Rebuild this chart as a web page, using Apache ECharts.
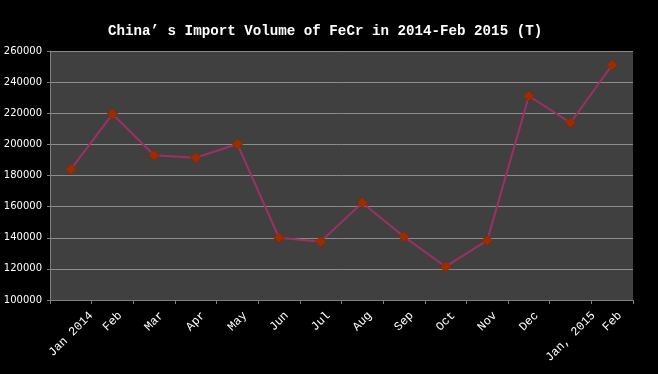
<!DOCTYPE html>
<html><head><meta charset="utf-8">
<script src="https://cdn.jsdelivr.net/npm/echarts@6/dist/echarts.min.js"></script>
<style>html,body{margin:0;padding:0;background:#000;}#c{width:658px;height:374px;}</style>
</head><body><div id="c"></div>
<script>
const categories = ["Jan 2014","Feb","Mar","Apr","May","Jun","Jul","Aug","Sep","Oct","Nov","Dec","Jan, 2015","Feb"];
const importVolume = [184000,219500,193000,191400,200200,140000,137500,162500,140700,121400,138300,231100,213900,251000];
const yTicks = {min:100000, max:260000, interval:20000};
const titleText = "China\u2019 s Import Volume of FeCr in 2014-Feb 2015 (T)";

const xFont = '12px "Liberation Mono"';
// Excel centres rotated labels horizontally on the category; emulate with per-label padding
const cv = document.createElement('canvas').getContext('2d');
cv.font = xFont;
const rich = {};
categories.forEach((c, i) => {
  const L = cv.measureText(c).width;
  const v = 0.25 * L + 4;
  rich['l' + i] = {color:'#ffffff', fontFamily:'Liberation Mono', fontSize:12, padding:[2*v, 2*v, 0, 0]};
});

const chart = echarts.init(document.getElementById('c'));
chart.setOption({
  backgroundColor:'#000000',
  animation:false,
  title:{text:titleText, left:103, top:19,
    textStyle:{color:'#ffffff', fontFamily:'Liberation Mono', fontWeight:'bold', fontSize:14.2}},
  grid:{left:50, top:51, right:25, bottom:74, show:true, backgroundColor:'#404040', borderWidth:0},
  xAxis:{type:'category', data:categories, boundaryGap:true,
    axisLine:{lineStyle:{color:'#808080', width:1}},
    axisTick:{show:true, length:4, lineStyle:{color:'#808080'}},
    axisLabel:{color:'#ffffff', rotate:45, align:'center', verticalAlign:'middle', margin:8, interval:0,
      formatter:(val, idx) => '{l' + idx + '|' + val + '}', rich:rich}},
  yAxis:{type:'value', min:yTicks.min, max:yTicks.max, interval:yTicks.interval,
    axisLine:{show:true, lineStyle:{color:'#808080'}},
    axisTick:{show:true, length:3, lineStyle:{color:'#808080'}},
    splitLine:{lineStyle:{color:'#8c8c8c', width:1}},
    axisLabel:{color:'#ffffff', fontFamily:'DejaVu Sans', fontSize:10, margin:8, formatter:v => String(v)}},
  series:[{type:'line', data:importVolume, symbol:'diamond', symbolSize:11,
    lineStyle:{color:'#9e2f66', width:2},
    itemStyle:{color:'#992e00', borderColor:'#7a2000', borderWidth:0.5}}]
});
</script></body></html>
